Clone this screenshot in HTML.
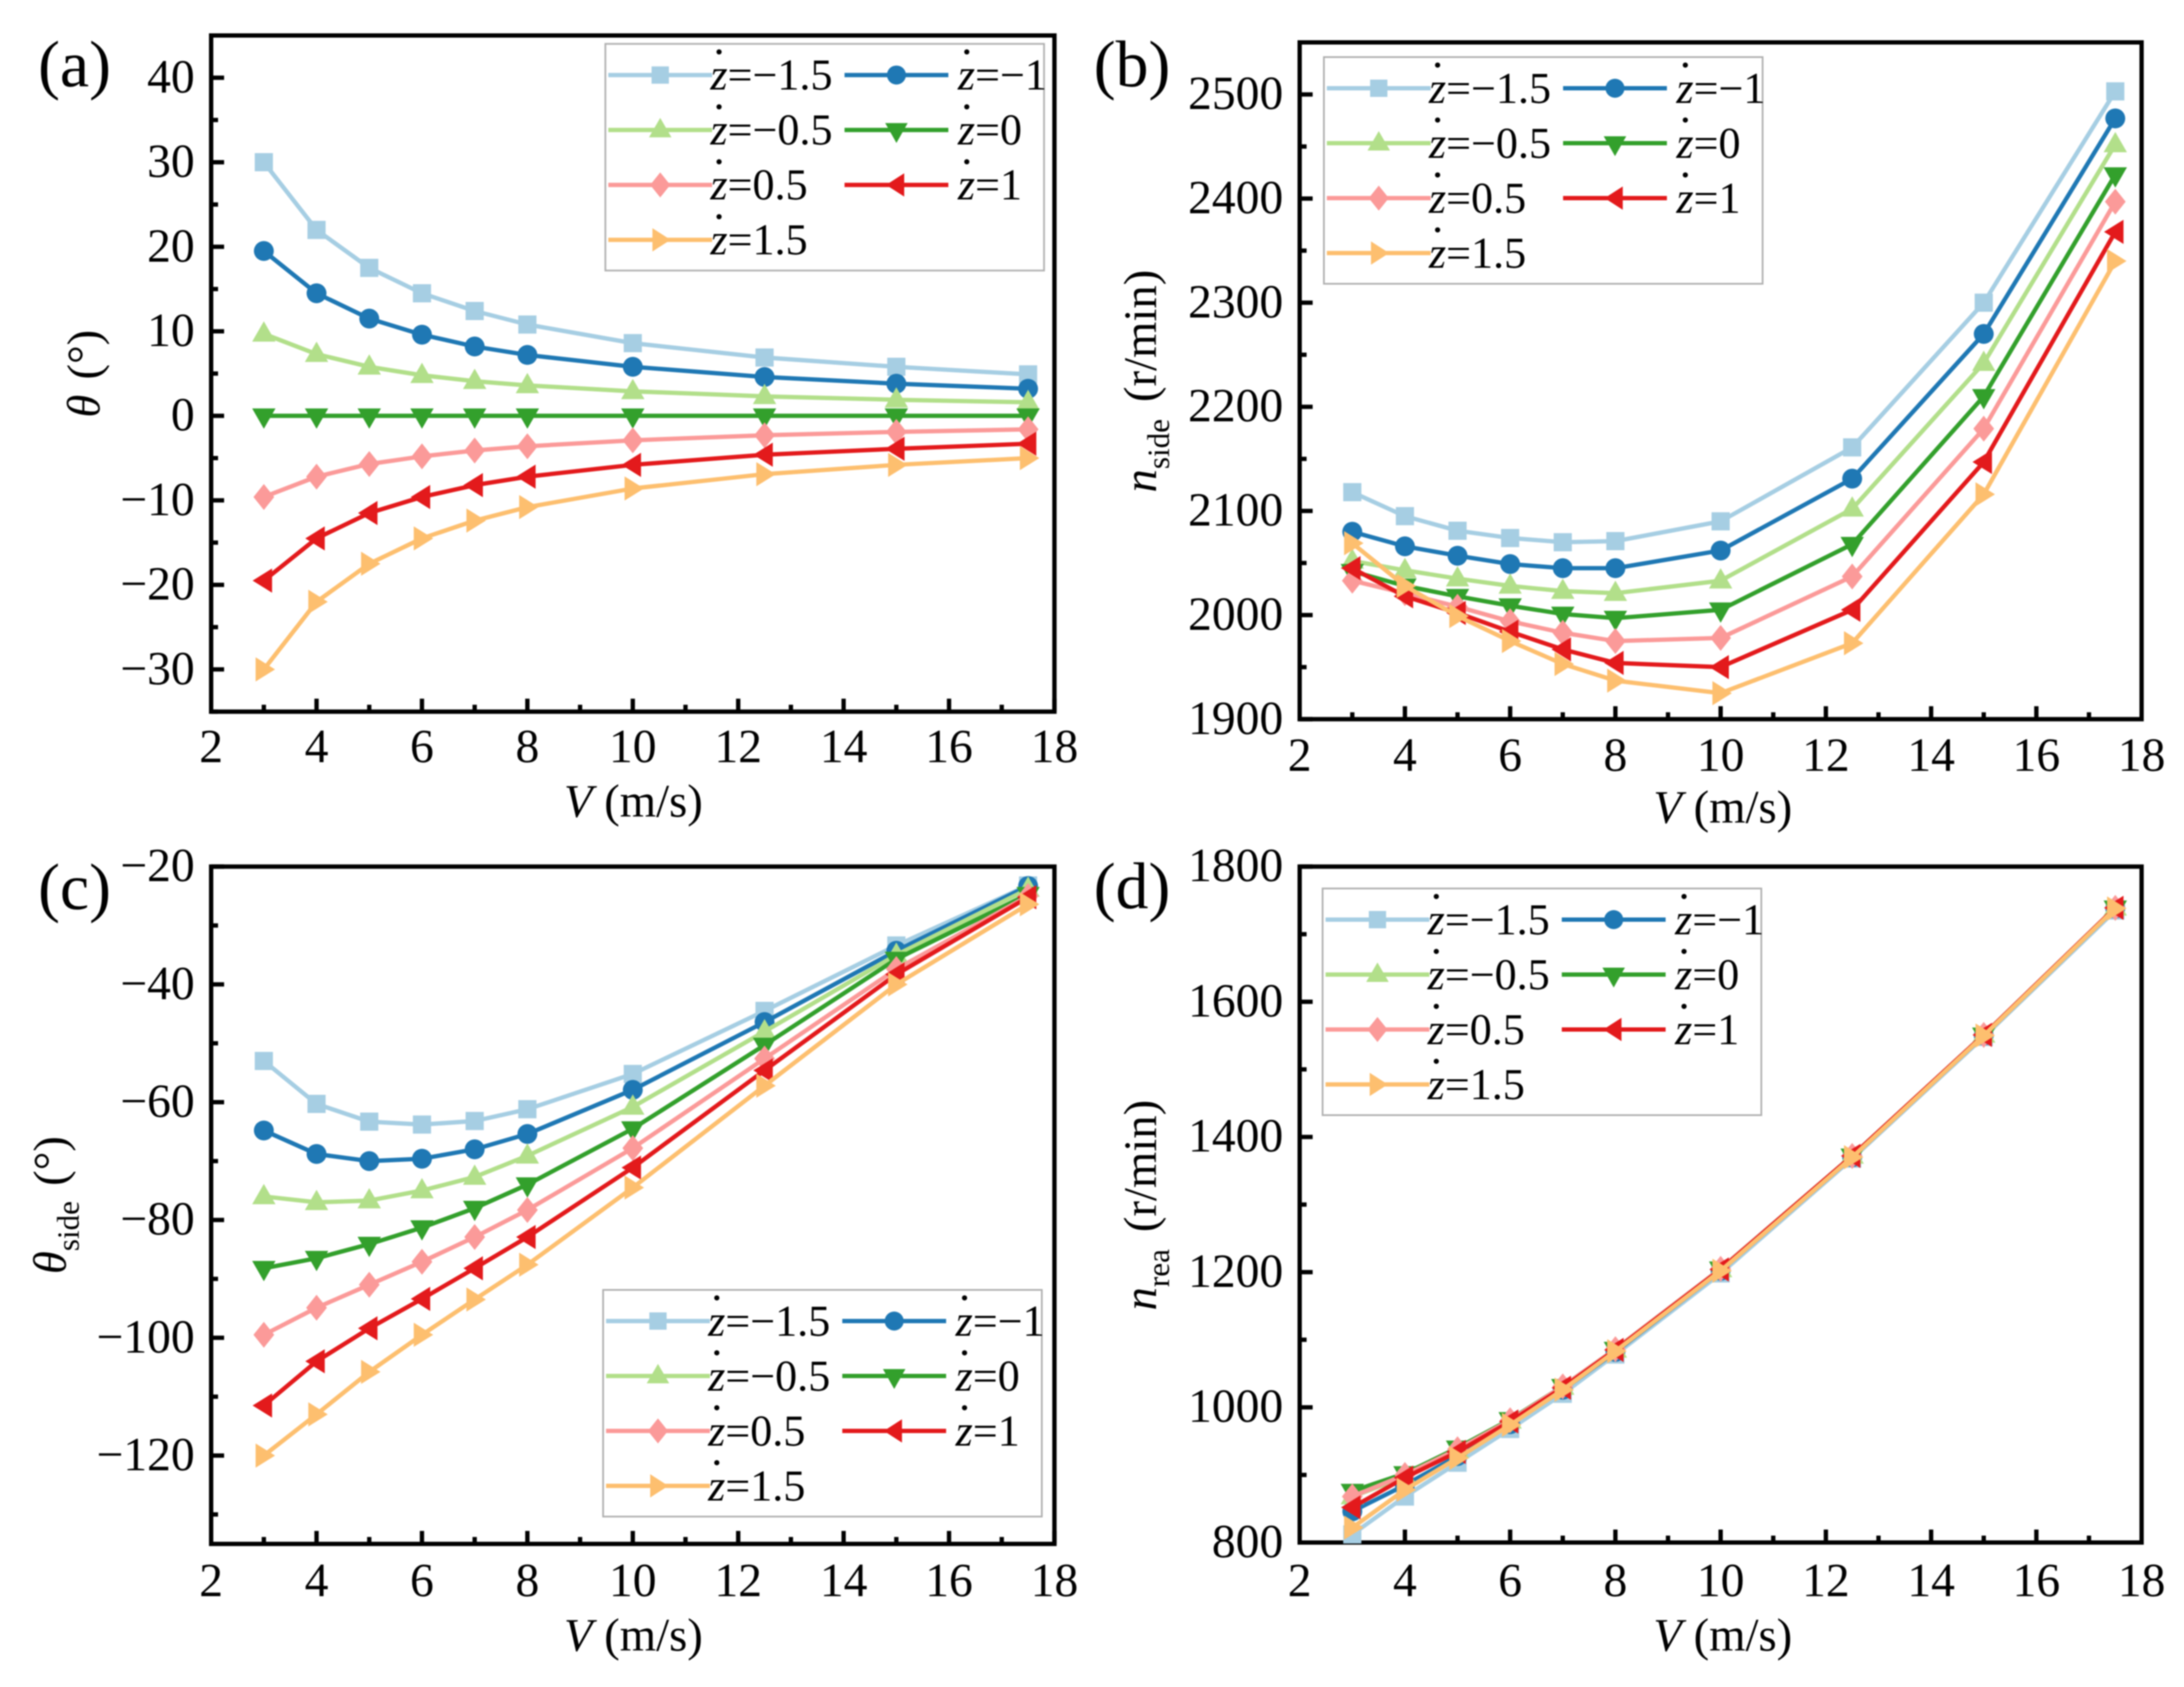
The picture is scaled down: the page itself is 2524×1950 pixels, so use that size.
<!DOCTYPE html>
<html lang="en">
<head>
<meta charset="utf-8">
<title>Figure panels</title>
<style>
html,body{margin:0;padding:0;background:#fff;}
svg{display:block;filter:blur(0.8px);font-family:"Liberation Serif",serif;fill:#000;}
.ptxt{font-size:76px;}
.ttl{font-size:54px;}
.leg{font-size:51px;}
.lb{fill:#fff;stroke:#b0b0b0;stroke-width:2;}
.ll{stroke-width:5;fill:none;}
</style>
</head>
<body>
<svg id="fig" xmlns="http://www.w3.org/2000/svg" width="2524" height="1950" viewBox="0 0 2524 1950">
  <rect x="0" y="0" width="2524" height="1950" fill="#fff"/>
  <g id="plots"></g>

  <text class="ptxt" x="44" y="100">(a)</text>
  <text class="ptxt" x="1264" y="100">(b)</text>
  <text class="ptxt" x="44" y="1051">(c)</text>
  <text class="ptxt" x="1264" y="1050">(d)</text>

  <text class="ttl" x="732" y="944" text-anchor="middle"><tspan font-style="italic">V</tspan> (m/s)</text>
  <text class="ttl" x="1991" y="951" text-anchor="middle"><tspan font-style="italic">V</tspan> (m/s)</text>
  <text class="ttl" x="732" y="1908" text-anchor="middle"><tspan font-style="italic">V</tspan> (m/s)</text>
  <text class="ttl" x="1991" y="1908" text-anchor="middle"><tspan font-style="italic">V</tspan> (m/s)</text>

  <text class="ttl" text-anchor="middle" transform="translate(115,432) rotate(-90)"><tspan font-style="italic">θ</tspan><tspan dx="4"> (°)</tspan></text>
  <text class="ttl" text-anchor="middle" transform="translate(1336,440.5) rotate(-90)"><tspan font-style="italic">n</tspan><tspan font-size="36" dy="15">side</tspan><tspan dy="-15" dx="6"> (r/min)</tspan></text>
  <text class="ttl" text-anchor="middle" transform="translate(76,1393) rotate(-90)"><tspan font-style="italic">θ</tspan><tspan font-size="36" dy="15">side</tspan><tspan dy="-15" dx="4"> (°)</tspan></text>
  <text class="ttl" text-anchor="middle" transform="translate(1336,1393) rotate(-90)"><tspan font-style="italic">n</tspan><tspan font-size="36" dy="15">rea</tspan><tspan dy="-15" dx="6"> (r/min)</tspan></text>

  <g transform="translate(699.6,50.7)">
    <rect class="lb" x="0" y="0" width="507" height="262"/>
    <g transform="translate(0,36)"><line class="ll" x1="3.4" x2="123.4" stroke="#A6CEE3"/><path d="M53.4 -10h20v20h-20z" fill="#A6CEE3"/><circle cx="131.4" cy="-26.7" r="3"/><text class="leg" x="121.4" y="17"><tspan font-style="italic">z</tspan>=−1.5</text></g>
    <g transform="translate(273,36)"><line class="ll" x1="3.4" x2="123.4" stroke="#1F78B4"/><circle cx="63.4" cy="0" r="11" fill="#1F78B4"/><circle cx="144.7" cy="-26.7" r="3"/><text class="leg" x="134.4" y="17"><tspan font-style="italic">z</tspan>=−1</text></g>
    <g transform="translate(0,99.5)"><line class="ll" x1="3.4" x2="123.4" stroke="#B2DF8A"/><path d="M63.4 -14L76.4 8.5L50.4 8.5Z" fill="#B2DF8A"/><circle cx="131.4" cy="-26.7" r="3"/><text class="leg" x="121.4" y="17"><tspan font-style="italic">z</tspan>=−0.5</text></g>
    <g transform="translate(273,99.5)"><line class="ll" x1="3.4" x2="123.4" stroke="#33A02C"/><path d="M63.4 15L76.4 -8L50.4 -8Z" fill="#33A02C"/><circle cx="144.7" cy="-26.7" r="3"/><text class="leg" x="134.4" y="17"><tspan font-style="italic">z</tspan>=0</text></g>
    <g transform="translate(0,163)"><line class="ll" x1="3.4" x2="123.4" stroke="#FB9A99"/><path d="M63.4 -14.5L75 0L63.4 14.5L51.8 0Z" fill="#FB9A99"/><circle cx="131.4" cy="-26.7" r="3"/><text class="leg" x="121.4" y="17"><tspan font-style="italic">z</tspan>=0.5</text></g>
    <g transform="translate(273,163)"><line class="ll" x1="3.4" x2="123.4" stroke="#E31A1C"/><path d="M51.4 0L72.4 -13.5V13.5Z" fill="#E31A1C"/><circle cx="144.7" cy="-26.7" r="3"/><text class="leg" x="134.4" y="17"><tspan font-style="italic">z</tspan>=1</text></g>
    <g transform="translate(0,226.5)"><line class="ll" x1="3.4" x2="123.4" stroke="#FDBF6F"/><path d="M75.4 0L54.4 -13.5V13.5Z" fill="#FDBF6F"/><circle cx="131.4" cy="-26.7" r="3"/><text class="leg" x="121.4" y="17"><tspan font-style="italic">z</tspan>=1.5</text></g>
  </g>

  <g transform="translate(1530,66)">
    <rect class="lb" x="0" y="0" width="507" height="262"/>
    <g transform="translate(0,36)"><line class="ll" x1="3.4" x2="123.4" stroke="#A6CEE3"/><path d="M53.4 -10h20v20h-20z" fill="#A6CEE3"/><circle cx="131.4" cy="-26.7" r="3"/><text class="leg" x="121.4" y="17"><tspan font-style="italic">z</tspan>=−1.5</text></g>
    <g transform="translate(273,36)"><line class="ll" x1="3.4" x2="123.4" stroke="#1F78B4"/><circle cx="63.4" cy="0" r="11" fill="#1F78B4"/><circle cx="144.7" cy="-26.7" r="3"/><text class="leg" x="134.4" y="17"><tspan font-style="italic">z</tspan>=−1</text></g>
    <g transform="translate(0,99.5)"><line class="ll" x1="3.4" x2="123.4" stroke="#B2DF8A"/><path d="M63.4 -14L76.4 8.5L50.4 8.5Z" fill="#B2DF8A"/><circle cx="131.4" cy="-26.7" r="3"/><text class="leg" x="121.4" y="17"><tspan font-style="italic">z</tspan>=−0.5</text></g>
    <g transform="translate(273,99.5)"><line class="ll" x1="3.4" x2="123.4" stroke="#33A02C"/><path d="M63.4 15L76.4 -8L50.4 -8Z" fill="#33A02C"/><circle cx="144.7" cy="-26.7" r="3"/><text class="leg" x="134.4" y="17"><tspan font-style="italic">z</tspan>=0</text></g>
    <g transform="translate(0,163)"><line class="ll" x1="3.4" x2="123.4" stroke="#FB9A99"/><path d="M63.4 -14.5L75 0L63.4 14.5L51.8 0Z" fill="#FB9A99"/><circle cx="131.4" cy="-26.7" r="3"/><text class="leg" x="121.4" y="17"><tspan font-style="italic">z</tspan>=0.5</text></g>
    <g transform="translate(273,163)"><line class="ll" x1="3.4" x2="123.4" stroke="#E31A1C"/><path d="M51.4 0L72.4 -13.5V13.5Z" fill="#E31A1C"/><circle cx="144.7" cy="-26.7" r="3"/><text class="leg" x="134.4" y="17"><tspan font-style="italic">z</tspan>=1</text></g>
    <g transform="translate(0,226.5)"><line class="ll" x1="3.4" x2="123.4" stroke="#FDBF6F"/><path d="M75.4 0L54.4 -13.5V13.5Z" fill="#FDBF6F"/><circle cx="131.4" cy="-26.7" r="3"/><text class="leg" x="121.4" y="17"><tspan font-style="italic">z</tspan>=1.5</text></g>
  </g>

  <g transform="translate(697,1491)">
    <rect class="lb" x="0" y="0" width="507" height="262"/>
    <g transform="translate(0,36)"><line class="ll" x1="3.4" x2="123.4" stroke="#A6CEE3"/><path d="M53.4 -10h20v20h-20z" fill="#A6CEE3"/><circle cx="131.4" cy="-26.7" r="3"/><text class="leg" x="121.4" y="17"><tspan font-style="italic">z</tspan>=−1.5</text></g>
    <g transform="translate(273,36)"><line class="ll" x1="3.4" x2="123.4" stroke="#1F78B4"/><circle cx="63.4" cy="0" r="11" fill="#1F78B4"/><circle cx="144.7" cy="-26.7" r="3"/><text class="leg" x="134.4" y="17"><tspan font-style="italic">z</tspan>=−1</text></g>
    <g transform="translate(0,99.5)"><line class="ll" x1="3.4" x2="123.4" stroke="#B2DF8A"/><path d="M63.4 -14L76.4 8.5L50.4 8.5Z" fill="#B2DF8A"/><circle cx="131.4" cy="-26.7" r="3"/><text class="leg" x="121.4" y="17"><tspan font-style="italic">z</tspan>=−0.5</text></g>
    <g transform="translate(273,99.5)"><line class="ll" x1="3.4" x2="123.4" stroke="#33A02C"/><path d="M63.4 15L76.4 -8L50.4 -8Z" fill="#33A02C"/><circle cx="144.7" cy="-26.7" r="3"/><text class="leg" x="134.4" y="17"><tspan font-style="italic">z</tspan>=0</text></g>
    <g transform="translate(0,163)"><line class="ll" x1="3.4" x2="123.4" stroke="#FB9A99"/><path d="M63.4 -14.5L75 0L63.4 14.5L51.8 0Z" fill="#FB9A99"/><circle cx="131.4" cy="-26.7" r="3"/><text class="leg" x="121.4" y="17"><tspan font-style="italic">z</tspan>=0.5</text></g>
    <g transform="translate(273,163)"><line class="ll" x1="3.4" x2="123.4" stroke="#E31A1C"/><path d="M51.4 0L72.4 -13.5V13.5Z" fill="#E31A1C"/><circle cx="144.7" cy="-26.7" r="3"/><text class="leg" x="134.4" y="17"><tspan font-style="italic">z</tspan>=1</text></g>
    <g transform="translate(0,226.5)"><line class="ll" x1="3.4" x2="123.4" stroke="#FDBF6F"/><path d="M75.4 0L54.4 -13.5V13.5Z" fill="#FDBF6F"/><circle cx="131.4" cy="-26.7" r="3"/><text class="leg" x="121.4" y="17"><tspan font-style="italic">z</tspan>=1.5</text></g>
  </g>

  <g transform="translate(1528.5,1027)">
    <rect class="lb" x="0" y="0" width="507" height="262"/>
    <g transform="translate(0,36)"><line class="ll" x1="3.4" x2="123.4" stroke="#A6CEE3"/><path d="M53.4 -10h20v20h-20z" fill="#A6CEE3"/><circle cx="131.4" cy="-26.7" r="3"/><text class="leg" x="121.4" y="17"><tspan font-style="italic">z</tspan>=−1.5</text></g>
    <g transform="translate(273,36)"><line class="ll" x1="3.4" x2="123.4" stroke="#1F78B4"/><circle cx="63.4" cy="0" r="11" fill="#1F78B4"/><circle cx="144.7" cy="-26.7" r="3"/><text class="leg" x="134.4" y="17"><tspan font-style="italic">z</tspan>=−1</text></g>
    <g transform="translate(0,99.5)"><line class="ll" x1="3.4" x2="123.4" stroke="#B2DF8A"/><path d="M63.4 -14L76.4 8.5L50.4 8.5Z" fill="#B2DF8A"/><circle cx="131.4" cy="-26.7" r="3"/><text class="leg" x="121.4" y="17"><tspan font-style="italic">z</tspan>=−0.5</text></g>
    <g transform="translate(273,99.5)"><line class="ll" x1="3.4" x2="123.4" stroke="#33A02C"/><path d="M63.4 15L76.4 -8L50.4 -8Z" fill="#33A02C"/><circle cx="144.7" cy="-26.7" r="3"/><text class="leg" x="134.4" y="17"><tspan font-style="italic">z</tspan>=0</text></g>
    <g transform="translate(0,163)"><line class="ll" x1="3.4" x2="123.4" stroke="#FB9A99"/><path d="M63.4 -14.5L75 0L63.4 14.5L51.8 0Z" fill="#FB9A99"/><circle cx="131.4" cy="-26.7" r="3"/><text class="leg" x="121.4" y="17"><tspan font-style="italic">z</tspan>=0.5</text></g>
    <g transform="translate(273,163)"><line class="ll" x1="3.4" x2="123.4" stroke="#E31A1C"/><path d="M51.4 0L72.4 -13.5V13.5Z" fill="#E31A1C"/><circle cx="144.7" cy="-26.7" r="3"/><text class="leg" x="134.4" y="17"><tspan font-style="italic">z</tspan>=1</text></g>
    <g transform="translate(0,226.5)"><line class="ll" x1="3.4" x2="123.4" stroke="#FDBF6F"/><path d="M75.4 0L54.4 -13.5V13.5Z" fill="#FDBF6F"/><circle cx="131.4" cy="-26.7" r="3"/><text class="leg" x="121.4" y="17"><tspan font-style="italic">z</tspan>=1.5</text></g>
  </g>
</svg>

<script>
// Shared x categories
const speeds = [3, 4, 5, 6, 7, 8, 10, 12.5, 15, 17.5];
const xTickLabels = [2, 4, 6, 8, 10, 12, 14, 16, 18];
const xMinorTicks = [3, 5, 7, 9, 11, 13, 15, 17];
const seriesNames = ['z-minus-1-5', 'z-minus-1', 'z-minus-0-5', 'z-0', 'z-0-5', 'z-1', 'z-1-5'];

// Panel (a) theta
const aZm15 = [30, 22, 17.5, 14.5, 12.4, 10.8, 8.6, 6.9, 5.8, 4.9];
const aZm10 = [19.5, 14.5, 11.5, 9.6, 8.2, 7.2, 5.8, 4.6, 3.8, 3.2];
const aZm05 = [9.7, 7.3, 5.8, 4.8, 4.1, 3.6, 2.9, 2.3, 1.9, 1.6];
const aZ00 = [0, 0, 0, 0, 0, 0, 0, 0, 0, 0];
const aZp05 = [-9.6, -7.2, -5.7, -4.8, -4.1, -3.6, -2.9, -2.3, -1.9, -1.6];
const aZp10 = [-19.5, -14.5, -11.5, -9.6, -8.2, -7.2, -5.8, -4.6, -3.9, -3.3];
const aZp15 = [-30, -22, -17.5, -14.5, -12.4, -10.8, -8.6, -6.9, -5.8, -5];
const aTicks = [-30, -20, -10, 0, 10, 20, 30, 40];
const aMinor = [-35, -25, -15, -5, 5, 15, 25, 35, 45];

// Panel (b) n_side
const bZm15 = [2118, 2095, 2081, 2074, 2070, 2071, 2090, 2161, 2300, 2503];
const bZm10 = [2080, 2066, 2057, 2049, 2045, 2045, 2062, 2131, 2270, 2477];
const bZm05 = [2052, 2043, 2035, 2028, 2023, 2021, 2033, 2102, 2242, 2452];
const bZ00 = [2042, 2028, 2018, 2009, 2001, 1997, 2005, 2068, 2210, 2423];
const bZp05 = [2033, 2021, 2008, 1994, 1983, 1975, 1978, 2037, 2179, 2397];
const bZp10 = [2045, 2018, 2002, 1984, 1967, 1954, 1950, 2005, 2147, 2368];
const bZp15 = [2069, 2028, 1999, 1975, 1953, 1937, 1925, 1973, 2116, 2340];
const bTicks = [1900, 2000, 2100, 2200, 2300, 2400, 2500];
const bMinor = [1950, 2050, 2150, 2250, 2350, 2450];

// Panel (c) theta_side
const cZm15 = [-53, -60.3, -63.3, -63.8, -63.2, -61.2, -55.2, -44.5, -33.4, -23.2];
const cZm10 = [-64.8, -68.8, -70, -69.6, -68, -65.4, -57.9, -46.4, -34.3, -23.3];
const cZm05 = [-76, -77, -76.7, -75, -72.7, -69.1, -60.8, -48, -35, -23.8];
const cZ00 = [-88.2, -86.5, -84.1, -81.3, -78, -74, -64.5, -50.3, -35.7, -24.7];
const cZp05 = [-99.5, -94.9, -91, -87.1, -82.9, -78.3, -67.8, -52.6, -37.4, -25];
const cZp10 = [-111.5, -104, -98.4, -93.4, -88.2, -82.9, -71.1, -54.6, -38.3, -25.2];
const cZp15 = [-120, -113, -105.8, -99.5, -93.5, -87.6, -74.5, -57.2, -40, -26.4];
const cTicks = [-120, -100, -80, -60, -40, -20];
const cMinor = [-130, -110, -90, -70, -50, -30];

// Panel (d) n_rea
const dZm15 = [812, 868, 918, 968, 1020, 1078, 1198, 1368, 1548, 1735];
const dZm10 = [846, 885, 928, 975, 1026, 1082, 1202, 1370, 1550, 1738];
const dZm05 = [868, 897, 936, 980, 1030, 1085, 1204, 1372, 1551, 1739];
const dZ00 = [876, 902, 940, 982, 1031, 1086, 1205, 1372, 1551, 1739];
const dZp05 = [868, 900, 938, 981, 1031, 1086, 1205, 1372, 1551, 1739];
const dZp10 = [852, 896, 934, 979, 1029, 1085, 1204, 1372, 1551, 1739];
const dZp15 = [822, 878, 925, 974, 1026, 1083, 1202, 1370, 1550, 1738];
const dTicks = [800, 1000, 1200, 1400, 1600, 1800];
const dMinor = [900, 1100, 1300, 1500, 1700];

const NS = 'http://www.w3.org/2000/svg';
const seriesColors = ['#A6CEE3', '#1F78B4', '#B2DF8A', '#33A02C', '#FB9A99', '#E31A1C', '#FDBF6F'];
const markerKinds = ['square', 'circle', 'up', 'down', 'diamond', 'left', 'right'];

const panelList = [
  { id: 'a', left: 244, right: 1218.6, top: 41, bottom: 822.6, yMin: -35, yMax: 45, xLabelY: 881,
    series: [aZm15, aZm10, aZm05, aZ00, aZp05, aZp10, aZp15], major: aTicks, minor: aMinor },
  { id: 'b', left: 1502, right: 2475, top: 49, bottom: 831.3, yMin: 1900, yMax: 2550, xLabelY: 891,
    series: [bZm15, bZm10, bZm05, bZ00, bZp05, bZp10, bZp15], major: bTicks, minor: bMinor },
  { id: 'c', left: 244, right: 1218.6, top: 1001.7, bottom: 1784.6, yMin: -135, yMax: -20, xLabelY: 1845,
    series: [cZm15, cZm10, cZm05, cZ00, cZp05, cZp10, cZp15], major: cTicks, minor: cMinor },
  { id: 'd', left: 1502, right: 2475, top: 1001.7, bottom: 1783, yMin: 800, yMax: 1800, xLabelY: 1845,
    series: [dZm15, dZm10, dZm05, dZ00, dZp05, dZp10, dZp15], major: dTicks, minor: dMinor }
];

function make(tag, attrs, parent) {
  const node = document.createElementNS(NS, tag);
  for (const key in attrs) node.setAttribute(key, attrs[key]);
  parent.appendChild(node);
  return node;
}

function markerPath(kind, cx, cy) {
  if (kind === 'square') return `M${cx - 10.5} ${cy - 10.5}h21v21h-21z`;
  if (kind === 'up') return `M${cx} ${cy - 14.5}L${cx + 13.5} ${cy + 9}L${cx - 13.5} ${cy + 9}Z`;
  if (kind === 'down') return `M${cx} ${cy + 15}L${cx + 13.5} ${cy - 8.5}L${cx - 13.5} ${cy - 8.5}Z`;
  if (kind === 'diamond') return `M${cx} ${cy - 15}L${cx + 12} ${cy}L${cx} ${cy + 15}L${cx - 12} ${cy}Z`;
  if (kind === 'left') return `M${cx - 13} ${cy}L${cx + 9.5} ${cy - 14}V${cy + 14}Z`;
  return `M${cx + 13} ${cy}L${cx - 9.5} ${cy - 14}V${cy + 14}Z`;
}

function fmt(value) {
  return String(value).replace('-', '\u2212');
}

const plotRoot = document.getElementById('plots');

panelList.forEach(function (panel) {
  const xScale = function (v) { return panel.left + (v - 2) / 16 * (panel.right - panel.left); };
  const yScale = function (v) { return panel.bottom - (v - panel.yMin) / (panel.yMax - panel.yMin) * (panel.bottom - panel.top); };

  const group = make('g', {}, plotRoot);
  
  

  const frame = make('rect', { x: panel.left, y: panel.top, width: panel.right - panel.left, height: panel.bottom - panel.top, fill: 'none', stroke: '#000', 'stroke-width': 5 }, group);
  
  

  xTickLabels.forEach(function (t) {
    const tick = make('line', { x1: xScale(t), x2: xScale(t), y1: panel.bottom, y2: panel.bottom - 15, stroke: '#000', 'stroke-width': 5 }, group);
    
    
    const label = make('text', { x: xScale(t), y: panel.xLabelY, 'font-size': 55, 'text-anchor': 'middle' }, group);
    
    
    label.textContent = fmt(t);
  });
  xMinorTicks.forEach(function (t) {
    const tick = make('line', { x1: xScale(t), x2: xScale(t), y1: panel.bottom, y2: panel.bottom - 8, stroke: '#000', 'stroke-width': 5 }, group);
    
    
  });
  panel.major.forEach(function (t) {
    const tick = make('line', { x1: panel.left, x2: panel.left + 15, y1: yScale(t), y2: yScale(t), stroke: '#000', 'stroke-width': 5 }, group);
    
    
    const label = make('text', { x: panel.left - 19, y: yScale(t) + 17, 'font-size': 55, 'text-anchor': 'end' }, group);
    
    
    label.textContent = fmt(t);
  });
  panel.minor.forEach(function (t) {
    const tick = make('line', { x1: panel.left, x2: panel.left + 8, y1: yScale(t), y2: yScale(t), stroke: '#000', 'stroke-width': 5 }, group);
    
    
  });

  panel.series.forEach(function (values, si) {
    const color = seriesColors[si];
    const kind = markerKinds[si];
    const sg = make('g', {}, group);
    
    
    const d = values.map(function (v, i) { return (i ? 'L' : 'M') + xScale(speeds[i]) + ' ' + yScale(v); }).join('');
    const line = make('path', { d: d, fill: 'none', stroke: color, 'stroke-width': 5, 'stroke-linejoin': 'round' }, sg);
    
    
    values.forEach(function (v, i) {
      const cx = xScale(speeds[i]);
      const cy = yScale(v);
      let mark;
      if (kind === 'circle') {
        mark = make('circle', { cx: cx, cy: cy, r: 11.5, fill: color }, sg);
      } else {
        mark = make('path', { d: markerPath(kind, cx, cy), fill: color }, sg);
      }
      
      
    });
  });
});
</script>
</body>
</html>
